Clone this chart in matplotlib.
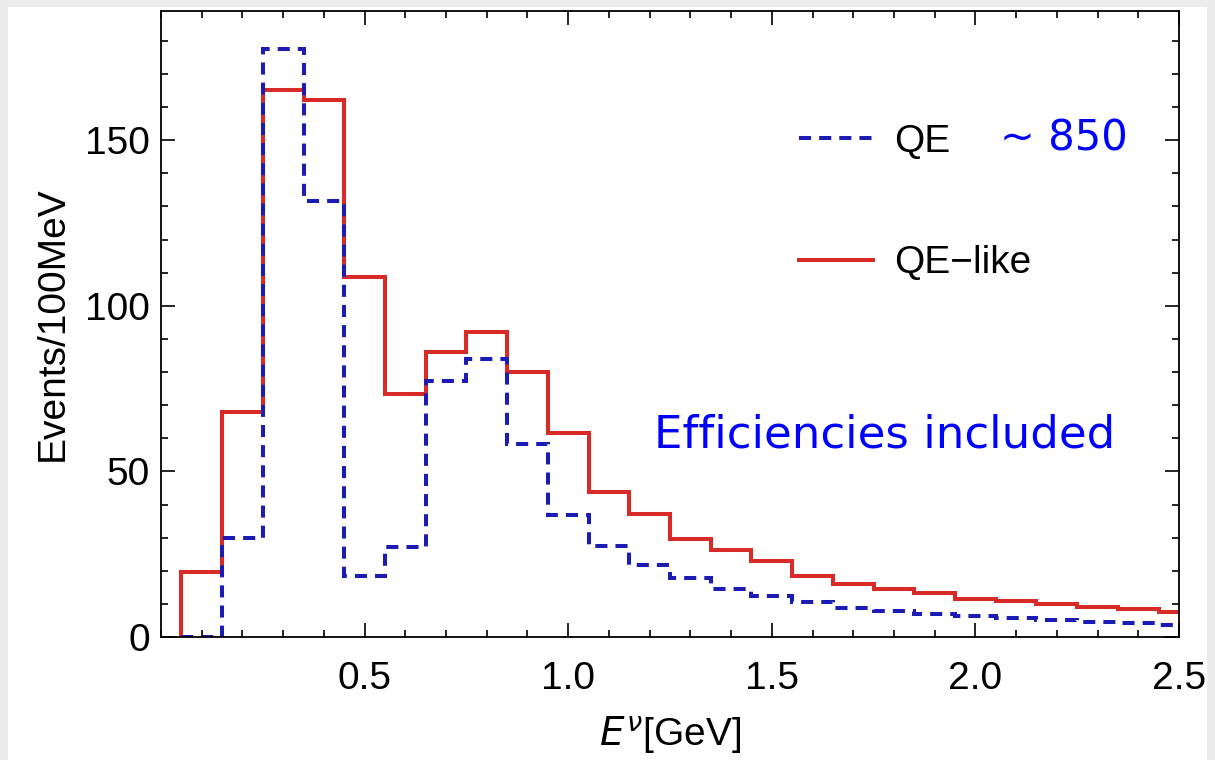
import numpy as np
import matplotlib.pyplot as plt
from matplotlib.patches import Rectangle
from matplotlib.ticker import MultipleLocator

plt.rcParams['font.family'] = ['Liberation Sans', 'DejaVu Sans']

# bin edges in GeV (100 MeV bins)
bin_edges = [0.05, 0.15, 0.25, 0.35, 0.45, 0.55, 0.65, 0.75, 0.85, 0.95,
             1.05, 1.15, 1.25, 1.35, 1.45, 1.55, 1.65, 1.75, 1.85, 1.95,
             2.05, 2.15, 2.25, 2.35, 2.45, 2.55]

# events / 100 MeV
qe_like = [19.5, 68, 165, 162, 108.7, 73.5, 86, 92, 80, 61.6,
           43.8, 37, 29.6, 26.4, 23, 18.3, 16, 14.6, 13.2, 11.5,
           11, 10, 9.2, 8.4, 7.5]
qe = [0, 30, 177.5, 131.5, 18.3, 27.3, 77.3, 84, 58.3, 36.9,
      27.4, 21.8, 17.9, 14.5, 12.3, 10.5, 8.9, 8, 7, 6.2,
      5.6, 5.2, 4.6, 4.3, 3.6]

W, H = 1215, 760
fig = plt.figure(figsize=(W / 100, H / 100), dpi=100, facecolor='#ececec')
fig.patches.append(Rectangle((8 / W, 0), 1199 / W, 753 / H, transform=fig.transFigure,
                             facecolor='white', edgecolor='none', zorder=-10))

ax = fig.add_axes([161 / W, 1 - 637 / H, (1179 - 161) / W, (637 - 11) / H])
ax.set_facecolor('white')

red = '#d82a26'
blue = '#1c1cb4'
l_like = ax.stairs(qe_like, bin_edges, color=red, lw=2.9, label='QE\u2212like')
l_qe = ax.stairs(qe, bin_edges, color=blue, lw=2.9, linestyle=(0, (3.0, 2.0)), label='QE')

ax.set_xlim(0.0, 2.5)
ax.set_ylim(0, 189)

ax.xaxis.set_major_locator(MultipleLocator(0.5))
ax.xaxis.set_minor_locator(MultipleLocator(0.1))
ax.yaxis.set_major_locator(MultipleLocator(50))
ax.yaxis.set_minor_locator(MultipleLocator(10))
ax.set_xticks([0.5, 1.0, 1.5, 2.0, 2.5])
ax.set_xticklabels(['0.5', '1.0', '1.5', '2.0', '2.5'])
ax.tick_params(which='both', direction='in', top=True, right=True, labelsize=28, width=1.2)
ax.tick_params(which='major', length=10)
ax.tick_params(axis='x', which='major', pad=17)
ax.tick_params(axis='y', which='major', pad=8)
ax.tick_params(which='minor', length=5)
for s in ax.spines.values():
    s.set_linewidth(1.3)

ax.set_xlabel(r'$E^{\nu}$[GeV]', fontsize=28, labelpad=13)
ax.set_ylabel('Events/100MeV', fontsize=28, labelpad=10)

leg = ax.legend([l_qe, l_like], ['QE', 'QE\u2212like'], loc='upper left',
                bbox_to_anchor=(0.627, 0.82), frameon=False, fontsize=28,
                handlelength=1.9, handletextpad=0.55, labelspacing=2.2,
                borderpad=0, borderaxespad=0)

ax.text(2.06, 150.5, '~ 850', color='#0000ff', fontsize=30, va='center', ha='left',
        family='DejaVu Sans')
ax.text(1.21, 61, 'Efficiencies included', color='#0000ff', fontsize=32.5,
        va='center', ha='left', family='DejaVu Sans')

fig.savefig('out.png', dpi=100, facecolor=fig.get_facecolor())
